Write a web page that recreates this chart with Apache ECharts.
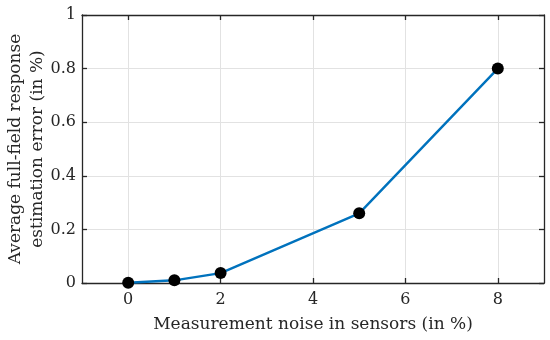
<!DOCTYPE html>
<html><head><meta charset="utf-8">
<script src="https://cdn.jsdelivr.net/npm/echarts@6/dist/echarts.min.js"></script>
<style>html,body{margin:0;padding:0;background:#fff}#c{width:550px;height:340px}</style>
</head><body><div id="c"></div>
<script>
const noiseLevels = [0, 1, 2, 5, 8];
const avgError = [0.001, 0.01, 0.037, 0.26, 0.80];
const xTicks = [0, 2, 4, 6, 8];
const yTicks = [0, 0.2, 0.4, 0.6, 0.8, 1];
const xTitle = 'Measurement noise in sensors (in %)';
const yTitle = 'Average full-field response\nestimation error (in %)';

const font = 'DejaVu Serif';
const chart = echarts.init(document.getElementById('c'));
const lineCol = '#262626';
const axisLine = {show: true, onZero: false, lineStyle: {color: lineCol, width: 1.3}};
const tick = (vals) => ({show: true, inside: true, length: 5, customValues: vals, lineStyle: {color: lineCol, width: 1.3}});
const grid = {show: true, lineStyle: {color: '#e2e2e2', width: 1}};
chart.setOption({
  animation: false,
  grid: {left: 82, right: 6, top: 15, bottom: 57, outerBoundsMode: 'none', containLabel: false},
  xAxis: [{
    type: 'value', min: -1, max: 9,
    axisLine, axisTick: tick(xTicks), splitLine: grid,
    axisLabel: {fontFamily: font, fontSize: 16, color: lineCol, margin: 9, customValues: xTicks},
    name: xTitle, nameLocation: 'middle', nameGap: 33, nameMoveOverlap: false,
    nameTextStyle: {fontFamily: font, fontSize: 17, color: lineCol}
  }, {
    type: 'value', min: -1, max: 9, position: 'top',
    axisLine, axisTick: tick(xTicks), axisLabel: {show: false}, splitLine: {show: false}
  }],
  yAxis: [{
    type: 'value', min: 0, max: 1,
    axisLine, axisTick: tick(yTicks), splitLine: grid,
    axisLabel: {fontFamily: font, fontSize: 16, color: lineCol, margin: 6, customValues: yTicks,
      formatter: v => String(Math.round(v * 10) / 10)},
    name: yTitle, nameLocation: 'middle', nameGap: 33, nameRotate: 90, nameMoveOverlap: false,
    nameTextStyle: {fontFamily: font, fontSize: 17, color: lineCol, lineHeight: 22}
  }, {
    type: 'value', min: 0, max: 1, position: 'right',
    axisLine, axisTick: tick(yTicks), axisLabel: {show: false}, splitLine: {show: false}
  }],
  series: [{
    type: 'line',
    data: noiseLevels.map((x, i) => [x, avgError[i]]),
    lineStyle: {color: '#0072BD', width: 2.4},
    symbol: 'circle', symbolSize: 12,
    itemStyle: {color: '#000'}
  }]
});
</script></body></html>
